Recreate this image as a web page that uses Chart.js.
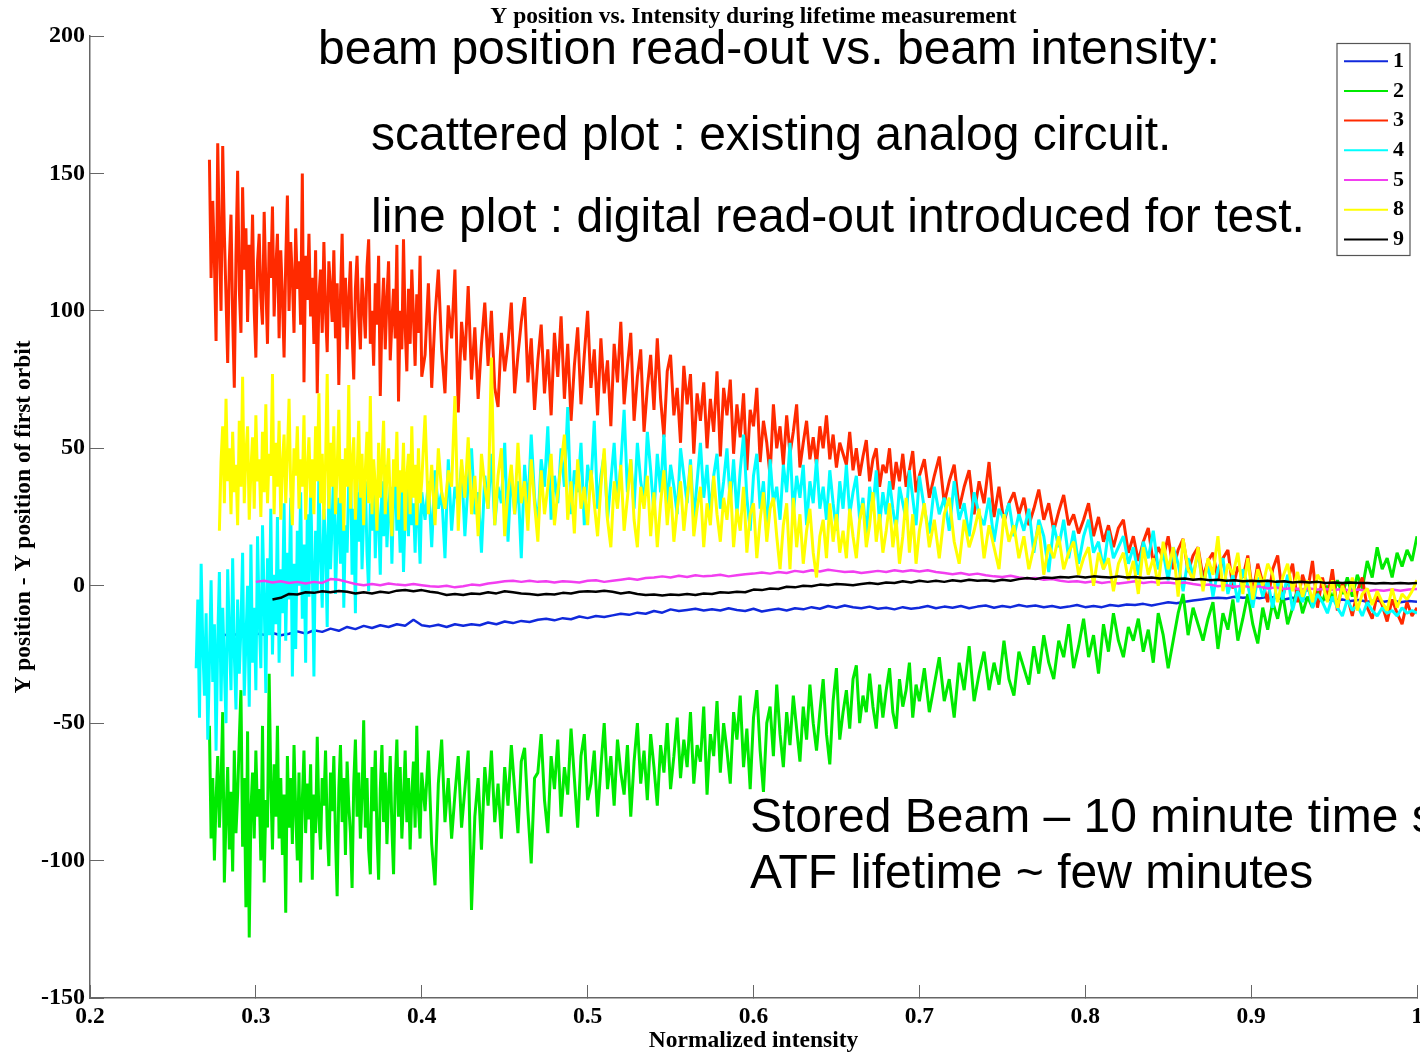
<!DOCTYPE html>
<html>
<head>
<meta charset="utf-8">
<title>Y position vs. Intensity during lifetime measurement</title>
<script src="https://cdn.jsdelivr.net/npm/chart.js@4"></script>
<style>
    html, body { margin: 0; padding: 0; background: #fff; overflow: hidden; }
    canvas { display: block; }
</style>
</head>
<body>
<canvas id="orbitChart" width="1420" height="1053"></canvas>
<script>
// intensity samples in thousandths, denser at low intensity
const noisyGrid = [
    264,265,266,267,268,269,270,271,272,273,274,275,276,277,278,279,280,281,282,283,
    284,285,286,287,288,289,290,291,292,293,294,295,296,297,298,299,300,301,302,303,
    304,305,306,307,308,309,310,311,312,313,314,315,316,317,318,319,320,321,322,323,
    324,325,326,327,328,329,330,331,332,333,334,335,336,337,338,339,340,341,342,343,
    344,345,346,347,348,349,350,351,352,353,354,355,356,357,358,359,360,361,362,363,
    364,365,366,367,368,369,370,371,372,373,374,375,376,377,378,379,380,381,382,383,
    384,385,386,387,388,389,390,391,392,393,394,395,396,397,398,399,400,
    402,404,406,408,410,412,414,416,418,420,422,424,426,428,430,432,434,436,438,440,
    442,444,446,448,450,452,454,456,458,460,462,464,466,468,470,472,474,476,478,480,
    482,484,486,488,490,492,494,496,498,500,502,504,506,508,510,512,514,516,518,520,
    522,524,526,528,530,532,534,536,538,540,542,544,546,548,550,552,554,556,558,560,
    562,564,566,568,570,572,574,576,578,580,582,584,586,588,590,592,594,596,598,600,
    602,604,606,608,610,612,614,616,618,620,622,624,626,628,630,632,634,636,638,640,
    642,644,646,648,650,652,654,656,658,660,662,664,666,668,670,672,674,676,678,680,
    682,684,686,688,690,692,694,696,698,700,
    703,706,709,712,715,718,721,724,727,730,733,736,739,742,745,748,751,754,757,760,
    763,766,769,772,775,778,781,784,787,790,793,796,799,802,805,808,811,814,817,820,
    823,826,829,832,835,838,841,844,847,850,853,856,859,862,865,868,871,874,877,880,
    883,886,889,892,895,898,901,904,907,910,913,916,919,922,925,928,931,934,937,940,
    943,946,949,952,955,958,961,964,967,970,973,976,979,982,985,988,991,994,997,1000
];
const fineGrid = [
    280,285,290,295,300,305,310,315,320,325,330,335,340,345,350,355,360,365,370,375,
    380,385,390,395,400,405,410,415,420,425,430,435,440,445,450,455,460,465,470,475,
    480,485,490,495,500,505,510,515,520,525,530,535,540,545,550,555,560,565,570,575,
    580,585,590,595,600,605,610,615,620,625,630,635,640,645,650,655,660,665,670,675,
    680,685,690,695,700,705,710,715,720,725,730,735,740,745,750,755,760,765,770,775,
    780,785,790,795,800,805,810,815,820,825,830,835,840,845,850,855,860,865,870,875,
    880,885,890,895,900,905,910,915,920,925,930,935,940,945,950,955,960,965,970,975,
    980,985,990,995,1000
];

const series1 = [
    -17.8,-18,-17.6,-18,-17.4,-17.8,-17.2,-18,-17.5,-16.6,
    -17.4,-16.2,-16.8,-15.6,-16.4,-15,-15.8,-14.6,-15.4,-14.4,
    -15,-14,-14.6,-12.4,-14.4,-14.8,-14.2,-15,-14,-14.6,
    -14,-14.4,-13.4,-14,-13,-13.6,-12.8,-13.2,-12.4,-12,
    -12.6,-11.8,-12.2,-11.2,-11.8,-11,-11.4,-10.8,-10.2,-10.6,
    -9.8,-10.2,-9.2,-9.8,-8.6,-9.2,-8.8,-8.4,-9,-8.6,
    -9,-8.2,-8.8,-9.2,-8.4,-9.4,-8.8,-8.4,-9,-8.2,
    -8.6,-7.8,-8.4,-7.4,-8,-7.2,-7.8,-8.2,-7.6,-8.4,
    -8,-8.6,-7.8,-8.4,-8,-7.4,-8.2,-7.6,-8,-7.4,
    -8.2,-7.6,-7.2,-8,-7.4,-7.8,-7,-7.6,-7.2,-7.8,
    -7.4,-8,-7.6,-7,-7.8,-7.4,-7.8,-7,-7.4,-6.8,
    -7,-6.6,-7.2,-6.6,-6,-6.4,-5.8,-5.4,-5,-4.6,
    -4.4,-4.6,-4,-4.4,-4.2,-4.6,-4,-4.4,-5,-4.4,
    -5,-4.6,-5.2,-4.8,-5.4,-5,-5.6,-5.2,-5.8,-5.4,
    -5.8,-5.4,-6,-5.6,-5.8
];
const series2 = [
    -51,-92,-70,-100,-78,-62,-88,-72,-46,-108,
    -84,-66,-96,-75,-104,-60,-90,-76,-56,-38,
    -95,-70,-117,-53,-128,-82,-68,-92,-60,-84,
    -74,-100,-51,-108,-78,-88,-32,-72,-96,-65,
    -84,-51,-92,-70,-98,-76,-119,-62,-88,-70,
    -94,-58,-82,-100,-68,-108,-78,-60,-90,-72,
    -85,-65,-107,-76,-90,-55,-84,-96,-70,-80,
    -60,-88,-102,-68,-82,-62,-92,-113,-74,-58,
    -86,-70,-98,-64,-80,-90,-110,-72,-56,-84,
    -68,-92,-76,-49,-88,-70,-96,-105,-66,-82,
    -60,-90,-107,-74,-58,-86,-68,-94,-76,-62,
    -88,-105,-72,-56,-84,-66,-92,-78,-60,-86,
    -70,-96,-76,-64,-88,-51,-80,-92,-68,
    -82,-60,-94,-109,-72,-56,-86,-70,-92,-76,
    -62,-88,-74,-60,-118,-84,-70,-96,-66,-80,
    -60,-86,-72,-92,-66,-80,-58,-74,-90,-64,
    -59,-82,-101,-70,-68,-54,-78,-90,-62,-74,
    -56,-84,-66,-76,-52,-70,-88,-62,-54,-78,
    -72,-60,-84,-66,-50,-74,-62,-80,-56,-68,
    -76,-58,-84,-64,-50,-72,-60,-78,-54,-66,
    -80,-58,-68,-50,-74,-62,-48,-70,-56,-66,
    -46,-72,-58,-64,-44,-76,-54,-62,-42,-68,
    -50,-60,-72,-46,-56,-40,-66,-52,-74,-48,
    -38,-60,-75,-50,-44,-62,-36,-54,-66,-46,
    -58,-40,-52,-64,-44,-56,-36,-50,-60,-46,
    -34,-54,-65,-42,-30,-56,-46,-38,-52,-34,
    -29,-50,-40,-46,-32,-44,-52,-36,-48,-38,
    -30,-46,-52,-34,-44,-38,-28,-48,-36,-42,
    -30,-46,-36,-26,-42,-34,-48,-28,-38,-22,
    -42,-32,-24,-38,-28,-36,-20,-34,-40,-24,
    -30,-36,-22,-32,-18,-28,-34,-20,-26,-14,
    -30,-22,-12,-26,-18,-32,-14,-24,-10,-20,
    -26,-15,-20,-12,-24,-16,-28,-10,-18,-30,
    -20,-10,-3,-18,-8,-14,-20,-12,-6,-23,
    -10,-16,-5,-20,-12,-3,-14,-21,-8,-16,
    -6,-12,-3,-14,-8,-1,-10,-4,-8,-2,
    -6,0,-5,2,-3,3,-4,4,-1,9,
    3,14,6,10,3,12,7,13,9,18
];
const series3 = [
    155,112,140,118,89,161,125,100,160,128,
    105,81,118,135,98,72,120,151,108,92,
    145,115,130,96,124,108,135,100,83,118,
    128,105,95,136,110,88,125,112,138,98,
    115,128,90,122,105,83,118,142,100,125,
    112,92,130,108,118,95,150,74,120,104,
    128,98,112,88,122,70,105,115,92,125,
    100,85,118,108,96,122,90,110,73,105,
    128,94,112,86,104,118,92,75,108,120,
    98,86,112,102,90,116,126,88,100,80,
    110,95,120,69,98,112,86,104,118,82,
    96,108,90,124,67,100,86,126,94,78,
    108,88,115,98,80,106,92,120,76,
    84,110,72,98,115,86,70,102,90,115,
    63,96,82,109,75,94,68,88,103,80,
    100,72,65,92,78,88,103,70,84,96,
    105,74,90,64,82,95,70,86,62,92,
    76,98,68,88,60,80,94,66,84,100,
    72,86,62,90,70,82,58,88,74,96,
    66,80,92,60,76,86,56,72,84,64,
    90,68,54,78,84,62,72,52,80,66,
    77,48,70,60,74,50,68,56,78,47,
    72,62,75,48,66,54,70,42,64,58,
    72,45,60,52,40,66,50,58,44,62,
    48,56,66,43,52,60,46,54,44,58,
    50,62,46,55,43,52,48,44,56,42,
    50,40,47,53,38,46,50,36,44,41,
    50,35,45,38,48,36,42,49,34,40,
    46,32,40,47,30,38,44,28,36,42,
    26,38,30,45,25,36,23,30,34,26,
    32,22,28,35,24,30,20,27,33,22,
    26,19,24,30,18,25,16,22,14,21,
    24,12,18,9,16,21,8,14,10,18,
    6,13,17,5,11,14,3,9,12,2,
    10,13,-1,7,3,11,-3,8,1,-6,
    6,11,-4,2,8,-6,4,-2,9,-8,
    3,-5,6,-9,1,-4,-11,-2,3,-8,
    -12,-3,-7,-13,-5,-10,-14,-6,-11,-8
];
const series4 = [
    -30,-5,-48,8,-22,-40,-10,-56,-28,2,
    -35,-14,-60,-20,5,-42,-8,-30,-50,6,
    -18,-38,10,-25,-45,-5,-32,-15,12,-40,
    -20,0,-44,15,-28,-8,-38,18,-12,-30,
    22,-5,-39,10,-18,28,-25,4,-14,25,
    -28,6,-10,30,-20,12,-5,32,-33,8,
    -23,20,0,34,-12,15,-28,26,-4,36,
    8,-33,20,-2,40,10,-8,28,16,-15,
    38,6,24,44,-3,18,32,8,46,-8,
    22,12,38,48,4,28,-10,34,16,42,
    6,26,38,12,-2,30,20,42,10,34,
    24,4,38,18,44,14,28,36,8,32,
    45,20,30,12,40,5,26,36,18,42,
    22,30,12,38,24,8,34,
    24,38,14,42,28,34,10,46,20,36,
    30,44,18,38,50,26,34,12,40,28,
    48,22,36,30,52,16,42,26,38,10,
    44,28,55,32,22,46,36,58,24,40,
    30,50,36,65,26,42,34,52,22,44,
    36,60,28,40,48,24,38,52,30,44,
    64,34,46,28,52,38,30,56,42,26,
    48,34,55,28,44,36,26,50,40,30,
    46,24,38,52,32,44,26,40,48,28,
    38,50,30,46,26,42,55,32,20,40,
    48,28,38,18,46,30,36,24,44,34,
    52,26,40,32,44,22,38,30,46,28,
    36,24,42,30,20,38,28,44,26,34,
    40,24,32,18,36,28,42,22,34,26,
    38,28,20,36,30,24,42,32,22,40,
    28,19,36,26,32,20,38,24,30,18,
    34,26,22,32,16,28,24,30,18,26,
    20,28,12,24,18,5,22,14,24,10,
    20,8,18,24,12,16,6,20,10,14,
    18,8,14,4,16,10,20,6,12,2,
    14,8,-2,10,4,12,0,8,-4,6,
    10,-3,4,-6,6,0,-8,3,-4,2,
    -8,2,-5,4,-9,-2,-6,1,-8,-3,
    -6,-10,-4,-8,-11,-5,-9,-7,-11,-6,
    -9,-11,-8,-10,-9,-11,-8,-10,-9,-10
];
const series5 = [
    1.4,1.8,1.2,1.6,1,1.4,0.8,1.4,1,2.4,
    2.2,1.4,0.6,0.2,0.6,0.2,0.8,0.4,0.2,0.6,
    0.2,-0.2,-0.4,0,-0.6,-0.2,0.4,0.2,0.8,1.2,
    1.6,1.8,1.4,1.8,1.4,1.6,1.2,1.6,1.4,1.2,
    1.8,2,1.4,1.8,2.2,2.6,2.2,2.8,3,3.4,
    3,3.6,3.2,3.8,3.4,3.6,4,3.4,3.8,4.2,
    4.4,4.8,4.4,5,4.6,5.4,5,5.6,5.2,5.8,
    5.4,5,5.2,4.6,5,5.4,5,5.6,5.2,5.6,
    5.2,5.6,5,4.6,4.2,4.6,4,4.4,3.8,3.4,
    3.2,3.6,3,2.6,2.8,2.2,2.4,1.8,1.4,1.6,
    1.2,1.6,1,1.4,0.8,1.2,1.6,1,1.4,1,
    1.2,0.8,1.2,0.6,0.2,0.4,-0.2,0.2,-0.4,0,
    -0.6,-0.2,-1,-0.6,-1.2,-0.8,-1.4,-1,-1.4,-1.2,
    -1.6,-1.2,-1.8,-1.4,-2,-1.6,-1.8,-1.4,-1.8,-1.4,
    -1.2
];
const series8 = [
    20,45,58,30,68,38,50,26,56,34,
    44,22,60,36,76,30,48,58,24,42,
    54,28,62,38,46,25,56,34,66,30,
    48,40,77,26,52,36,60,24,44,55,
    30,48,68,35,22,50,40,58,28,46,
    36,62,24,42,54,32,46,26,58,38,
    70,30,48,24,44,77,28,52,36,58,
    26,42,64,30,46,20,50,36,73,28,
    44,54,24,40,60,32,48,22,42,56,
    30,69,26,46,36,20,52,32,44,60,
    26,40,50,30,18,46,36,56,24,42,
    34,52,20,40,48,26,58,32,44,22,
    50,30,38,
    62,26,44,22,50,34,28,42,36,69,
    20,46,32,54,26,40,18,48,36,28,
    83,22,40,50,18,34,44,26,52,30,
    38,20,46,30,16,42,26,36,48,22,
    34,44,55,24,38,19,46,28,36,22,
    42,30,18,36,50,24,14,38,28,44,
    20,32,46,24,14,36,28,40,18,34,
    14,30,42,22,36,16,28,38,20,32,
    44,18,28,36,14,30,22,40,26,16,
    32,24,38,14,28,20,36,12,26,30,
    10,24,34,16,28,32,18,6,22,30,
    6,32,14,26,8,20,28,12,3,18,
    24,10,30,16,26,12,20,10,28,18,
    10,24,30,14,22,34,16,26,12,20,
    30,14,24,8,18,32,12,26,8,20,
    30,14,24,10,26,32,16,8,24,14,
    20,28,10,22,14,6,26,16,22,10,
    18,6,14,22,4,15,10,18,6,12,
    16,4,10,14,0,12,6,10,-2,8,
    12,2,9,-3,14,4,10,0,16,6,
    14,-4,17,6,2,14,-2,10,4,18,
    -2,8,4,12,-3,10,-5,6,0,8,
    4,-6,3,8,-2,5,-4,2,-6,4,
    1,-6,2,-8,0,-5,3,-9,-3,-1,
    -7,-2,-6,-9,-1,-8,-3,-5,-2,2
];
const series9 = [
    -5,-4.4,-3,-3.2,-2.4,-2.6,-2,-2.4,-1.9,-2.2,
    -2.8,-2.4,-2.8,-2.2,-2.6,-1.8,-1.6,-2,-1.6,-2.2,
    -2.6,-3.4,-3,-3.4,-2.8,-3,-2.4,-2.8,-2,-2.4,
    -2.8,-3,-3.4,-3,-3.2,-2.6,-2.8,-2.2,-2,-2.2,
    -1.8,-2.2,-2.8,-2.4,-3,-3.4,-3.2,-3.6,-3.2,-3.4,
    -3,-3.4,-2.8,-3,-2.4,-2.6,-2.2,-2.4,-1.4,-1.6,
    -1,-1.2,-0.4,-0.6,0,-0.2,0.4,0.2,0.6,0.4,
    0.2,0.6,1,0.6,1.2,1,1.6,1.2,1.8,1.4,
    1.8,1.4,2,1.6,2.2,1.8,2,1.6,2.2,1.8,
    2.4,2.8,2.4,3,2.8,3.2,3,3.4,3,3.4,
    3.2,3,3.4,3,3.2,2.8,3,2.6,2.8,2.4,
    2.6,2.2,2.4,2,2.2,1.8,2,1.6,1.8,1.6,
    1.8,1.4,1.6,1.2,1.4,1.2,1.4,1,1.2,1,
    1.2,1,1,0.8,1,0.8,1,0.8,1
];

const seriesNames = ['1', '2', '3', '4', '5', '8', '9'];
const seriesColors = ['#1029dc', '#00ea00', '#ff2a00', '#00ffff', '#f23ef0', '#ffff00', '#000000'];
const seriesWidths = [2.5, 3, 3, 3, 2.5, 3, 2.5];
const xTicks = [0.2, 0.3, 0.4, 0.5, 0.6, 0.7, 0.8, 0.9, 1];
const xTickLabels = ['0.2', '0.3', '0.4', '0.5', '0.6', '0.7', '0.8', '0.9', '1'];

const notes = [
    { text: 'beam position read-out vs. beam intensity:', x: 318, y: 64 },
    { text: 'scattered plot : existing analog circuit.', x: 371, y: 150 },
    { text: 'line plot : digital read-out introduced for test.', x: 371, y: 232 },
    { text: 'Stored Beam \u2013 10 minute time s', x: 750, y: 832 },
    { text: 'ATF lifetime ~ few minutes', x: 750, y: 888 }
];

const serif = '"Liberation Serif", "Times New Roman", serif';
const axisColor = '#666666';

function toPoints(grid, offset, values) {
    return values.map((v, i) => ({ x: grid[offset + i] / 1000, y: v }));
}

const datasets = [
    toPoints(fineGrid, 0, series1),
    toPoints(noisyGrid, 8, series2),
    toPoints(noisyGrid, 8, series3),
    toPoints(noisyGrid, 0, series4),
    toPoints(fineGrid, 4, series5),
    toPoints(noisyGrid, 14, series8),
    toPoints(fineGrid, 6, series9)
].map((points, i) => ({
    label: seriesNames[i],
    data: points,
    borderColor: seriesColors[i],
    backgroundColor: seriesColors[i],
    borderWidth: seriesWidths[i],
    borderJoinStyle: 'bevel',
    pointRadius: 0,
    fill: false,
    tension: 0,
    order: 6 - i
}));

// legend box sits inside the plot, top right corner
const legendBox = {
    id: 'legendBox',
    afterLayout(chart) {
        const legend = chart.legend;
        legend.left = 1336.3;
        legend.right = 1404;
        legend.top = 42.5;
        legend.bottom = 400;
        legend.width = 67.7;
        legend.height = 357.5;
    },
    beforeDraw(chart) {
        const ctx = chart.ctx;
        ctx.save();
        ctx.fillStyle = '#fff';
        ctx.strokeStyle = '#555';
        ctx.lineWidth = 1.2;
        ctx.fillRect(1337, 43.5, 73, 212);
        ctx.strokeRect(1337, 43.5, 73, 212);
        ctx.restore();
    }
};

// slide text pasted over the plot
const slideNotes = {
    id: 'slideNotes',
    afterDraw(chart) {
        const ctx = chart.ctx;
        ctx.save();
        ctx.fillStyle = '#000';
        ctx.font = '48px "Liberation Sans", Arial, sans-serif';
        ctx.textAlign = 'left';
        ctx.textBaseline = 'alphabetic';
        notes.forEach(n => ctx.fillText(n.text, n.x, n.y));
        ctx.restore();
    }
};

new Chart(document.getElementById('orbitChart').getContext('2d'), {
    type: 'line',
    data: { datasets: datasets },
    plugins: [legendBox, slideNotes],
    options: {
        responsive: false,
        animation: false,
        parsing: false,
        normalized: true,
        layout: { padding: { left: 0, right: 3, top: 0, bottom: 0 } },
        plugins: {
            tooltip: { enabled: false },
            title: {
                display: true,
                fullSize: false,
                text: 'Y position vs. Intensity during lifetime measurement',
                color: '#000',
                font: { family: serif, size: 23.5, weight: 'bold', lineHeight: 1 },
                padding: { top: 5, bottom: 7.5 }
            },
            legend: {
                position: 'chartArea',
                align: 'start',
                labels: {
                    usePointStyle: true,
                    pointStyle: 'line',
                    pointStyleWidth: 44,
                    textAlign: 'right',
                    padding: 7.7,
                    color: '#000',
                    font: { family: serif, size: 22, weight: 'bold', lineHeight: 1.2 },
                    sort: (a, b) => a.datasetIndex - b.datasetIndex,
                    generateLabels: chart => Chart.defaults.plugins.legend.labels.generateLabels(chart)
                        .map(item => ({ ...item, lineWidth: 2 }))
                }
            }
        },
        scales: {
            x: {
                type: 'linear',
                min: 0.2,
                max: 1,
                afterBuildTicks(scale) { scale.ticks = xTicks.map(v => ({ value: v })); },
                afterFit(scale) { scale.height = 55; scale.paddingRight = 0; scale.paddingLeft = 0; },
                border: { color: axisColor, width: 1.5 },
                grid: { drawOnChartArea: false, color: axisColor, tickLength: -13 },
                ticks: {
                    color: '#000',
                    padding: 18,
                    maxRotation: 0,
                    autoSkip: false,
                    font: { family: serif, size: 23.5, weight: 'bold' },
                    callback(value, index) { return xTickLabels[index]; }
                },
                title: {
                    display: true,
                    text: 'Normalized intensity',
                    color: '#000',
                    font: { family: serif, size: 23.5, weight: 'bold', lineHeight: 1 },
                    padding: { top: 0, bottom: 0 }
                }
            },
            y: {
                min: -150,
                max: 200,
                afterFit(scale) { scale.width = 90; scale.paddingTop = 0; scale.paddingBottom = 0; },
                border: { color: axisColor, width: 1.5 },
                grid: { drawOnChartArea: false, color: axisColor, tickLength: -14 },
                ticks: {
                    color: '#000',
                    padding: 19,
                    stepSize: 50,
                    font: { family: serif, size: 24, weight: 'bold' }
                },
                title: {
                    display: true,
                    text: 'Y position - Y position of first orbit',
                    color: '#000',
                    font: { family: serif, size: 23.5, weight: 'bold', lineHeight: 1 },
                    padding: { top: 12, bottom: 0 }
                }
            }
        }
    }
});
</script>
</body>
</html>
